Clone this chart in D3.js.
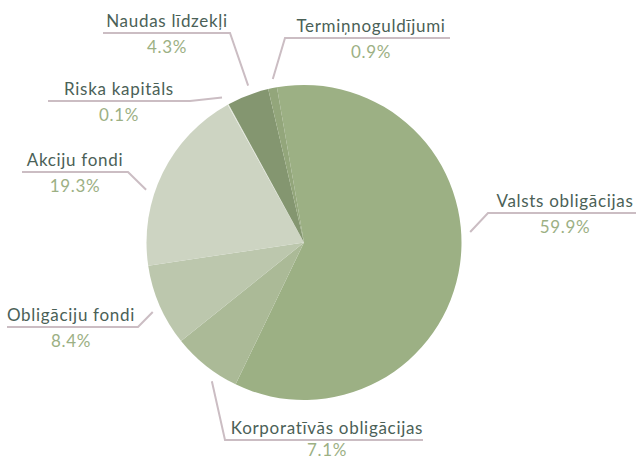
<!DOCTYPE html>
<html lang="lv">
<head>
<meta charset="UTF-8">
<title>Portfelis</title>
<style>
  body { margin: 0; background: #fff; }
  text { font-family: Lato, "Noto Sans", sans-serif; }
</style>
</head>
<body>
<div id="wrapper"></div>
<script src="https://d3js.org/d3.v7.min.js"></script>
<script>
  // dati
  const categories = ['Valsts obligācijas', 'Korporatīvās obligācijas', 'Obligāciju fondi',
    'Akciju fondi', 'Riska kapitāls', 'Naudas līdzekļi', 'Termiņnoguldījumi'];
  const values = [59.9, 7.1, 8.4, 19.3, 0.1, 4.3, 0.9];
  const colors = ['#9cb084', '#abba97', '#bcc7ad', '#cdd4c2', '#e2e7dc', '#849670', '#93a67b'];

  // etiķešu izkārtojums (leņķis grādos, līnijas lūzums un gals, teksta centrs)
  const labelLayout = [
    { angle: 86.4, elbowX: 488, lineY: 213, endX: 636, textX: 565 },
    { angle: 213.6, elbowX: 225, lineY: 440, endX: 423, textX: 327 },
    { angle: 245.3, elbowX: 138, lineY: 327, endX: 7, textX: 71 },
    { angle: 288.5, elbowX: 128, lineY: 172, endX: 22, textX: 75 },
    { angle: 330.5, elbowX: 190, lineY: 101, endX: 48, textX: 119 },
    { angle: 340.4, elbowX: 230, lineY: 33, endX: 103, textX: 167 },
    { angle: 349.2, elbowX: 285, lineY: 38, endX: 450, textX: 371 }
  ];

  const width = 636, height = 461;
  const cx = 304, cy = 242.5, radius = 157.5;
  const rad = Math.PI / 180;

  const svg = d3.select('#wrapper').append('svg')
    .attr('width', width)
    .attr('height', height);

  const data = categories.map((c, i) => ({ name: c, value: values[i], color: colors[i], layout: labelLayout[i] }));

  const pie = d3.pie()
    .sort(null)
    .value(d => d.value)
    .startAngle(-9.9 * rad)
    .endAngle(350.1 * rad);

  const arc = d3.arc().innerRadius(0).outerRadius(radius);

  const g = svg.append('g').attr('transform', `translate(${cx},${cy})`);

  g.selectAll('path.slice')
    .data(pie(data))
    .join('path')
    .attr('class', 'slice')
    .attr('d', arc)
    .attr('fill', d => d.data.color);

  // līnijas
  const tickR = radius + 9;
  svg.append('g').selectAll('polyline')
    .data(data)
    .join('polyline')
    .attr('fill', 'none')
    .attr('stroke', '#cbbdc3')
    .attr('stroke-width', 2)
    .attr('points', d => {
      const l = d.layout;
      const sx = cx + Math.sin(l.angle * rad) * tickR;
      const sy = cy - Math.cos(l.angle * rad) * tickR;
      return [[sx, sy], [l.elbowX, l.lineY], [l.endX, l.lineY]].map(p => p.join(',')).join(' ');
    });

  const labels = svg.append('g').selectAll('g')
    .data(data)
    .join('g');

  labels.append('text')
    .attr('x', d => d.layout.textX)
    .attr('y', d => d.layout.lineY - 6)
    .attr('text-anchor', 'middle')
    .attr('font-size', 17)
    .attr('letter-spacing', 0.7)
    .attr('fill', '#4b6157')
    .text(d => d.name);

  labels.append('text')
    .attr('x', d => d.layout.textX)
    .attr('y', d => Math.min(d.layout.lineY + 20, height - 5))
    .attr('text-anchor', 'middle')
    .attr('font-size', 17)
    .attr('letter-spacing', 0.7)
    .attr('fill', '#9cb084')
    .text(d => d.value.toFixed(1) + '%');
</script>
</body>
</html>
